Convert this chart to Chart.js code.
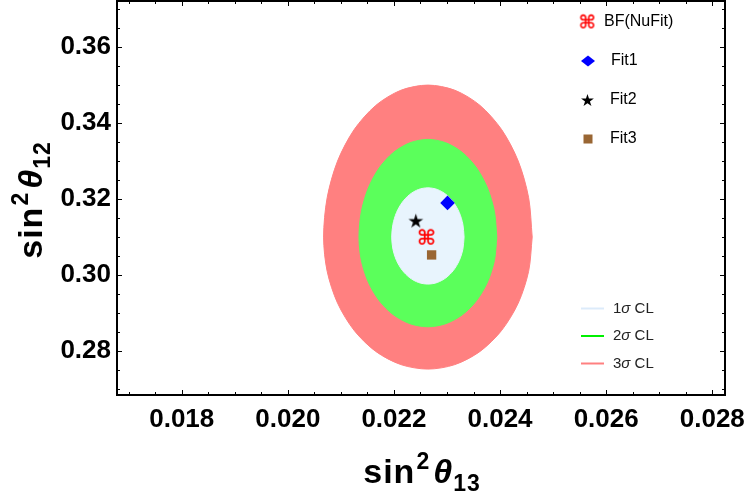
<!DOCTYPE html>
<html>
<head>
<meta charset="utf-8">
<script src="https://cdn.jsdelivr.net/npm/chart.js@4.4.1/dist/chart.umd.min.js"></script>
<style>
  body { margin: 0; background: #fff; }
  #wrap { position: relative; width: 750px; height: 497px; overflow: hidden; }
  #wrap canvas { position: absolute; left: 0; top: 0; }
  .txt { position: absolute; font-family: "Liberation Sans", Arial, sans-serif; color: #000; white-space: nowrap; }
  .axis-title { font-weight: bold; font-size: 34px; line-height: 30px; width: 200px; height: 30px; text-align: center; letter-spacing: 1px; }
  .axis-title .sup { font-size: 23px; position: relative; top: -14px; margin-left: 1px; }
  .axis-title .sub { font-size: 23px; position: relative; top: 8px; }
  .axis-title i { margin-left: 3px; }
  #x-title { left: 322px; top: 456px; }
  #y-title { left: -70px; top: 185px; transform: rotate(-90deg); }
  .leg { font-size: 16px; line-height: 16px; }
  .leg-cl { font-size: 15px; line-height: 15px; color: #222; }
</style>
</head>
<body>
<div id="wrap">
  <canvas id="contour-chart" width="750" height="497"></canvas>
  <div class="txt axis-title" id="x-title">sin<span class="sup">2</span><i>θ</i><span class="sub">13</span></div>
  <div class="txt axis-title" id="y-title">sin<span class="sup">2</span><i>θ</i><span class="sub">12</span></div>
  <div class="txt leg" style="left:604px; top:13px;">BF(NuFit)</div>
  <div class="txt leg" style="left:611px; top:52px;">Fit1</div>
  <div class="txt leg" style="left:610px; top:91px;">Fit2</div>
  <div class="txt leg" style="left:610px; top:130px;">Fit3</div>
  <div class="txt leg-cl" style="left:613px; top:300px;">1<i>σ</i> CL</div>
  <div class="txt leg-cl" style="left:613px; top:327px;">2<i>σ</i> CL</div>
  <div class="txt leg-cl" style="left:613px; top:355px;">3<i>σ</i> CL</div>
</div>
<script>
// axis ticks
const xTicks = [0.018, 0.020, 0.022, 0.024, 0.026, 0.028];
const yTicks = [0.28, 0.30, 0.32, 0.34, 0.36];

// best fit + model fits
const fitNames = ['BF(NuFit)', 'Fit1', 'Fit2', 'Fit3'];
const fitX = [0.02261, 0.02301, 0.02241, 0.02271];
const fitY = [0.3100, 0.3189, 0.3141, 0.3052];

// contour outlines (counter-clockwise from the right edge)
const cl3X = [0.024606, 0.024539, 0.024343, 0.024030, 0.023623, 0.023149, 0.022640, 0.022131, 0.021657, 0.021250, 0.020937, 0.020741,
              0.020674, 0.020741, 0.020937, 0.021250, 0.021657, 0.022131, 0.022640, 0.023149, 0.023623, 0.024030, 0.024343, 0.024539];
const cl3Y = [0.30990, 0.32025, 0.32990, 0.33818, 0.34454, 0.34854, 0.34990, 0.34854, 0.34454, 0.33818, 0.32990, 0.32025,
              0.30990, 0.30091, 0.29253, 0.28534, 0.27981, 0.27634, 0.27516, 0.27634, 0.27981, 0.28534, 0.29253, 0.30091];

const cl2X = [0.023939, 0.023895, 0.023765, 0.023559, 0.023290, 0.022976, 0.022640, 0.022304, 0.021990, 0.021721, 0.021515, 0.021385,
              0.021341, 0.021385, 0.021515, 0.021721, 0.021990, 0.022304, 0.022640, 0.022976, 0.023290, 0.023559, 0.023765, 0.023895];
const cl2Y = [0.30990, 0.31655, 0.32276, 0.32808, 0.33217, 0.33473, 0.33561, 0.33473, 0.33217, 0.32808, 0.32276, 0.31655,
              0.30990, 0.30379, 0.29810, 0.29321, 0.28945, 0.28710, 0.28629, 0.28710, 0.28945, 0.29321, 0.29810, 0.30379];

const cl1X = [0.023322, 0.023299, 0.023231, 0.023122, 0.022981, 0.022817, 0.022640, 0.022463, 0.022299, 0.022158, 0.022049, 0.021981,
              0.021958, 0.021981, 0.022049, 0.022158, 0.022299, 0.022463, 0.022640, 0.022817, 0.022981, 0.023122, 0.023231, 0.023299];
const cl1Y = [0.30990, 0.31326, 0.31639, 0.31907, 0.32113, 0.32243, 0.32287, 0.32243, 0.32113, 0.31907, 0.31639, 0.31326,
              0.30990, 0.30670, 0.30372, 0.30115, 0.29919, 0.29795, 0.29753, 0.29795, 0.29919, 0.30115, 0.30372, 0.30670];

const clColors = ['#E8F4FD', '#5BFF5B', '#FF8080'];
const clLegendColors = ['#DCEBFA', '#00F000', '#FF8080'];

function toLoop(xs, ys) {
  let pts = xs.map((x, i) => ({x: x, y: ys[i]}));
  pts.push({x: xs[0], y: ys[0]});
  return pts;
}

// glyph drawn into a canvas, used as pointStyle
function glyphMark(ch, color, targetWidth) {
  let c = document.createElement('canvas');
  let g = c.getContext('2d');
  g.font = 'bold 100px "DejaVu Sans"';
  let m = g.measureText(ch);
  let size = 100 * targetWidth / (m.actualBoundingBoxLeft + m.actualBoundingBoxRight);
  let font = 'bold ' + size + 'px "DejaVu Sans"';
  g.font = font;
  m = g.measureText(ch);
  c.width = Math.ceil(m.actualBoundingBoxLeft + m.actualBoundingBoxRight) + 2;
  c.height = Math.ceil(m.actualBoundingBoxAscent + m.actualBoundingBoxDescent) + 2;
  g = c.getContext('2d');
  g.font = font;
  g.fillStyle = color;
  g.fillText(ch, 1 + m.actualBoundingBoxLeft, 1 + m.actualBoundingBoxAscent);
  return c;
}

const bfMark = glyphMark('\u2318', '#FF0000', 16);
const starMark = glyphMark('\u2605', '#000000', 15);
const bfLegendMark = glyphMark('\u2318', '#FF0000', 14.5);
const starLegendMark = glyphMark('\u2605', '#000000', 13);

// inward ticks on all four sides + frame
const frameTicks = {
  id: 'frameTicks',
  afterDatasetsDraw(chart) {
    const {ctx, chartArea: a} = chart;
    const xs = chart.scales.x, ys = chart.scales.y;
    ctx.save();
    ctx.strokeStyle = '#000';
    ctx.lineWidth = 1;
    ctx.beginPath();
    for (let k = 34; k <= 56; k++) {
      let px = Math.round(xs.getPixelForValue(k * 0.0005)) + 0.5;
      let len = k % 4 === 0 ? 5 : 3;
      ctx.moveTo(px, a.bottom); ctx.lineTo(px, a.bottom - len);
      ctx.moveTo(px, a.top); ctx.lineTo(px, a.top + len);
    }
    for (let k = 54; k <= 74; k++) {
      let py = Math.round(ys.getPixelForValue(k * 0.005)) + 0.5;
      let len = k % 4 === 0 ? 5 : 3;
      ctx.moveTo(a.left, py); ctx.lineTo(a.left + len, py);
      ctx.moveTo(a.right, py); ctx.lineTo(a.right - len, py);
    }
    ctx.stroke();
    ctx.lineWidth = 2;
    ctx.strokeRect(a.left, a.top, a.right - a.left, a.bottom - a.top);
    ctx.restore();
  }
};

// legend symbols (labels are html text)
const legendMarks = {
  id: 'legendMarks',
  afterDraw(chart) {
    const ctx = chart.ctx;
    ctx.save();
    ctx.drawImage(bfLegendMark, 587 - bfLegendMark.width / 2, 21 - bfLegendMark.height / 2);
    ctx.fillStyle = '#0000FF';
    ctx.beginPath();
    ctx.moveTo(581, 61); ctx.lineTo(588, 55.5); ctx.lineTo(595, 61); ctx.lineTo(588, 66.5);
    ctx.closePath();
    ctx.fill();
    ctx.drawImage(starLegendMark, 587.5 - starLegendMark.width / 2, 100 - starLegendMark.height / 2);
    ctx.fillStyle = '#996633';
    ctx.fillRect(583.5, 134.5, 9, 9);
    ctx.lineWidth = 2;
    [308.5, 336, 363.5].forEach((y, i) => {
      ctx.strokeStyle = clLegendColors[i];
      ctx.beginPath();
      ctx.moveTo(581, y); ctx.lineTo(604, y);
      ctx.stroke();
    });
    ctx.restore();
  }
};

const contourSet = (xs, ys, color) => ({
  data: toLoop(xs, ys),
  showLine: true,
  fill: 'shape',
  backgroundColor: color,
  borderColor: color,
  borderWidth: 1,
  tension: 0.3,
  pointRadius: 0,
});

const pointSet = (i, style, color, radius) => ({
  label: fitNames[i],
  data: [{x: fitX[i], y: fitY[i]}],
  pointStyle: style,
  pointRadius: radius,
  pointBackgroundColor: color,
  pointBorderWidth: 0,
  borderWidth: 0,
});

const tickFont = {family: '"Liberation Sans", Arial, sans-serif', size: 26, weight: 'bold'};

new Chart(document.getElementById('contour-chart'), {
  type: 'scatter',
  data: {
    datasets: [
      pointSet(0, bfMark, '#FF0000', 8),
      pointSet(1, 'rectRot', '#0000FF', 7.3),
      pointSet(2, starMark, '#000000', 8),
      pointSet(3, 'rect', '#996633', 6.6),
      contourSet(cl1X, cl1Y, clColors[0]),
      contourSet(cl2X, cl2Y, clColors[1]),
      contourSet(cl3X, cl3Y, clColors[2]),
    ]
  },
  options: {
    responsive: false,
    animation: false,
    devicePixelRatio: 1,
    layout: { autoPadding: false, padding: { top: 1, right: 25, left: 0, bottom: 0 } },
    plugins: {
      legend: { display: false },
      tooltip: { enabled: false },
    },
    scales: {
      x: {
        type: 'linear',
        min: 0.01678,
        max: 0.02824,
        grid: { display: false, drawTicks: false },
        border: { display: false },
        afterBuildTicks: (s) => { s.ticks = xTicks.map(v => ({value: v})); },
        afterFit: (s) => { s.height = 102; s.paddingLeft = 0; s.paddingRight = 0; },
        ticks: {
          color: '#000',
          font: tickFont,
          padding: 9,
          maxRotation: 0,
          autoSkip: false,
          callback: (v) => v.toFixed(3),
        }
      },
      y: {
        type: 'linear',
        min: 0.26834,
        max: 0.37203,
        grid: { display: false, drawTicks: false },
        border: { display: false },
        afterBuildTicks: (s) => { s.ticks = yTicks.map(v => ({value: v})); },
        afterFit: (s) => { s.width = 117; s.paddingTop = 0; s.paddingBottom = 0; },
        ticks: {
          color: '#000',
          font: tickFont,
          padding: 6,
          autoSkip: false,
          callback: (v) => v.toFixed(2),
        }
      }
    }
  },
  plugins: [frameTicks, legendMarks]
});
</script>
</body>
</html>
